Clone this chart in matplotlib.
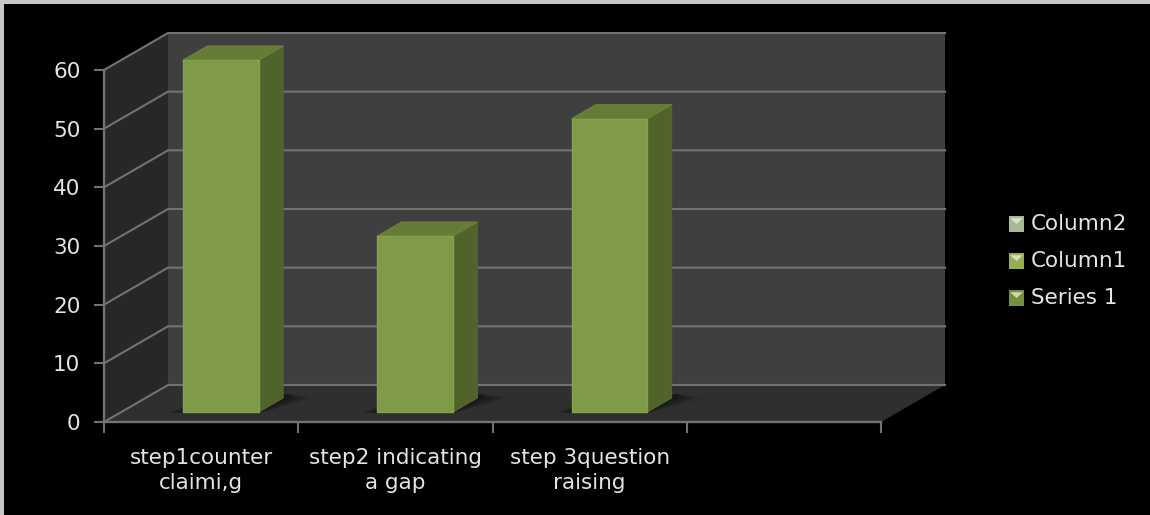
import matplotlib
matplotlib.use("Agg")
import matplotlib.pyplot as plt
from matplotlib.legend_handler import HandlerBase
from matplotlib.patches import Patch, Polygon, Rectangle

categories = ["step1counter\nclaimi,g", "step2 indicating\na gap", "step 3question\nraising", ""]
series_1 = [60, 30, 50]
legend_names = ["Column2", "Column1", "Series 1"]
legend_colors = ["#a9b794", "#94b04e", "#73903f"]
value_ticks = [0, 10, 20, 30, 40, 50, 60]

TEXT = "#e4e4e4"
GRID = "#727272"
DEPTH_X = 64 / 194.25     # category units per full depth of the floor
DEPTH_Y = 37 / 5.867      # value units per full depth of the floor
BAR_WIDTH = 0.39
BAR_SHIFT = 0.0135
BAR_NEAR, BAR_FAR = 0.27, 0.648


def project(x, y, depth):
    """Oblique projection of a point lying at a given depth behind the front plane."""
    return x + depth * DEPTH_X, y + depth * DEPTH_Y


def face(ax, corners, color, zorder, edge="none", lw=0, alpha=None):
    ax.add_patch(Polygon([project(*c) for c in corners], closed=True, facecolor=color,
                         edgecolor=edge, linewidth=lw, joinstyle="round",
                         clip_on=False, zorder=zorder, alpha=alpha))


class GlossySquare(HandlerBase):
    """Legend key: a small square with a pale highlight wedge at its top."""

    def create_artists(self, legend, orig, x, y, w, h, fontsize, trans):
        side = min(w, h)
        y = y - 0.1 * side
        box = Rectangle((x, y), side, side, facecolor=orig.get_facecolor(),
                        edgecolor="none", transform=trans)
        wedge = Polygon([(x + 0.08 * side, y + 0.88 * side), (x + 0.92 * side, y + 0.88 * side),
                         (x + 0.5 * side, y + 0.5 * side)], closed=True,
                        facecolor="#eef2dc", edgecolor="none", alpha=0.75, transform=trans)
        return [box, wedge]


fig = plt.figure(figsize=(11.5, 5.15), dpi=100, facecolor="#c8c8c8")
fig.add_artist(Rectangle((4 / 1150, 0), 1, 1 - 4 / 515, transform=fig.transFigure,
                         facecolor="black", edgecolor="none", zorder=-5))

ax = fig.add_axes([104 / 1150, 93 / 515, 777 / 1150, 352 / 515], zorder=1)
ax.set_facecolor("none")
ax.set_xlim(0, 4)
ax.set_ylim(0, 60)
for spine in ax.spines.values():
    spine.set_visible(False)

# Walls and floor of the chart box
face(ax, [(0, 0, 1), (4, 0, 1), (4, 60, 1), (0, 60, 1)], "#3f3f3f", 1)
face(ax, [(0, 0, 0), (0, 0, 1), (0, 60, 1), (0, 60, 0)], "#272727", 1)
face(ax, [(0, 0, 0), (4, 0, 0), (4, 0, 1), (0, 0, 1)], "#2f2f2f", 1)

# Gridlines running across the side wall and the back wall
for v in value_ticks:
    xs, ys = zip(project(0, v, 0), project(0, v, 1), project(4, v, 1))
    ax.plot(xs, ys, color=GRID, lw=1.5, clip_on=False, zorder=2, solid_joinstyle="miter")

# Front edges of the box
ax.plot([0, 0], [0, 60], color=GRID, lw=1.7, clip_on=False, zorder=3)
ax.plot([0, 4], [0, 0], color=GRID, lw=1.7, clip_on=False, zorder=3)

# Columns with their soft floor shadows
for i, value in enumerate(series_1):
    left = i + 0.5 + BAR_SHIFT - BAR_WIDTH / 2
    right = i + 0.5 + BAR_SHIFT + BAR_WIDTH / 2
    for grow, alpha in [(0.10, 0.16), (0.075, 0.22), (0.05, 0.30), (0.025, 0.40)]:
        face(ax, [(left - grow * 0.8, 0, BAR_NEAR - 0.02), (right + grow * 0.2, 0, BAR_NEAR - 0.02),
                  (right + grow * 1.6, 0, BAR_FAR), (right, 0, BAR_FAR + 0.1),
                  (left, 0, BAR_FAR)], "#111111", 4, alpha=alpha)
    face(ax, [(right, 0, BAR_NEAR), (right, 0, BAR_FAR), (right, value, BAR_FAR), (right, value, BAR_NEAR)],
         "#50632a", 5, edge="#54672b", lw=0.8)
    face(ax, [(left, value, BAR_NEAR), (right, value, BAR_NEAR), (right, value, BAR_FAR), (left, value, BAR_FAR)],
         "#657c37", 5, edge="#6b8339", lw=0.8)
    face(ax, [(left, 0, BAR_NEAR), (right, 0, BAR_NEAR), (right, value, BAR_NEAR), (left, value, BAR_NEAR)],
         "#809b48", 6, edge="#86a14e", lw=1.0)

# Axis ticks and labels
ax.set_yticks(value_ticks)
ax.tick_params(axis="y", length=7, width=1.5, color=GRID, labelcolor=TEXT, labelsize=15.5, pad=10)
ax.set_xticks(range(5))
ax.set_xticklabels([])
ax.tick_params(axis="x", which="major", length=8, width=1.5, color=GRID)
ax.set_xticks([0.5, 1.5, 2.5, 3.5], minor=True)
ax.set_xticklabels(categories, minor=True, color=TEXT, fontsize=15.5, linespacing=1.3)
ax.tick_params(axis="x", which="minor", length=0, pad=19)

handles = [Patch(facecolor=c, label=n) for n, c in zip(legend_names, legend_colors)]
fig.legend(handles=handles, handler_map={Patch: GlossySquare()}, loc="center left",
           bbox_to_anchor=(1009 / 1150, (515 - 261) / 515), frameon=False, fontsize=15.5,
           labelcolor=TEXT, handlelength=0.7, handleheight=0.7, handletextpad=0.32,
           labelspacing=0.79, borderpad=0, borderaxespad=0)

fig.savefig("out.png", dpi=100, facecolor=fig.get_facecolor())
